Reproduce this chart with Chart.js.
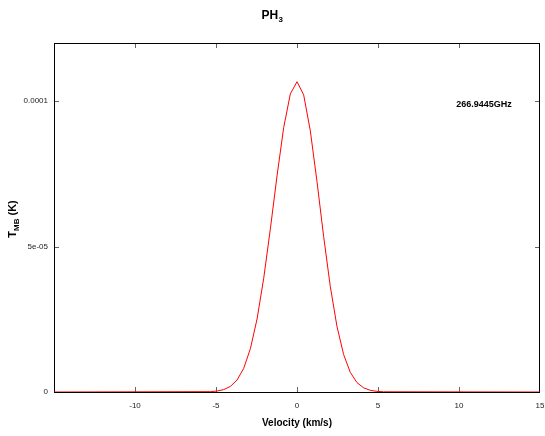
<!DOCTYPE html>
<html>
<head>
<meta charset="utf-8">
<script src="https://cdn.jsdelivr.net/npm/chart.js@4/dist/chart.umd.min.js"></script>
<style>
  html, body { margin: 0; padding: 0; background: #ffffff; }
  #wrap { width: 545px; height: 436px; }
</style>
</head>
<body>
<div id="wrap"><canvas id="c" width="545" height="436"></canvas></div>
<script>
// ---- Data ----
const velocity = [-15, -5.343, -4.932, -4.521, -4.110, -3.699, -3.288, -2.877, -2.466, -2.055, -1.644, -1.233, -0.822, -0.411,
  0, 0.411, 0.822, 1.233, 1.644, 2.055, 2.466, 2.877, 3.288, 3.699, 4.110, 4.521, 4.932, 5.343, 15];
const tmb = [0, 1.2e-7, 3.3e-7, 8.3e-7, 1.92e-6, 4.12e-6, 8.16e-6, 1.49e-5, 2.51e-5, 3.91e-5, 5.61e-5, 7.43e-5, 9.09e-5, 1.025e-4,
  1.067e-4, 1.022e-4, 8.98e-5, 7.24e-5, 5.35e-5, 3.63e-5, 2.26e-5, 1.29e-5, 6.77e-6, 3.25e-6, 1.43e-6, 5.8e-7, 2.2e-7, 7e-8, 0];
const xTicks = [-15, -10, -5, 0, 5, 10, 15];
const yTicks = [0, 5e-5, 1e-4];
const yTickLabels = ['0', '5e-05', '0.0001'];
const titleMain = 'PH';
const titleSub = '3';
const xTitle = 'Velocity (km/s)';
const yTitleMain = 'T';
const yTitleSub = 'MB';
const yTitleTail = ' (K)';
const annotation = '266.9445GHz';

const points = velocity.map((v, i) => ({ x: v, y: tmb[i] }));

const FONT = '"Liberation Sans", Arial, Helvetica, sans-serif';

const framePlugin = {
  id: 'frame',
  beforeDatasetsDraw(chart) {
    const ctx = chart.ctx;
    const a = chart.chartArea;
    const xs = chart.scales.x, ys = chart.scales.y;
    ctx.save();
    ctx.strokeStyle = '#666666';
    ctx.lineWidth = 1;
    const L = 5;
    xTicks.forEach(v => {
      if (v <= -15 || v >= 15) return;
      const px = Math.round(xs.getPixelForValue(v)) + 0.5;
      ctx.beginPath();
      ctx.moveTo(px, a.bottom); ctx.lineTo(px, a.bottom - L);
      ctx.moveTo(px, a.top); ctx.lineTo(px, a.top + L);
      ctx.stroke();
    });
    yTicks.forEach(v => {
      if (v <= 0) return;
      const py = Math.round(ys.getPixelForValue(v)) + 0.5;
      ctx.beginPath();
      ctx.moveTo(a.left, py); ctx.lineTo(a.left + L, py);
      ctx.moveTo(a.right, py); ctx.lineTo(a.right - L, py);
      ctx.stroke();
    });
    ctx.strokeStyle = '#000000';
    ctx.lineWidth = 1;
    ctx.strokeRect(Math.round(a.left) + 0.5, Math.round(a.top) + 0.5,
      Math.round(a.right - a.left) - 1, Math.round(a.bottom - a.top));
    ctx.restore();
  },
  afterDraw(chart) {
    const ctx = chart.ctx;
    ctx.save();
    ctx.fillStyle = '#000000';
    ctx.textBaseline = 'alphabetic';
    // Title PH3
    ctx.font = 'bold 12px ' + FONT;
    const w1 = ctx.measureText(titleMain).width;
    ctx.font = 'bold 8px ' + FONT;
    const w2 = ctx.measureText(titleSub).width;
    let tx = 272 - (w1 + w2) / 2;
    ctx.font = 'bold 12px ' + FONT;
    ctx.textAlign = 'left';
    ctx.fillText(titleMain, tx, 19);
    ctx.font = 'bold 8px ' + FONT;
    ctx.fillText(titleSub, tx + w1 + 0.5, 22);
    // X title
    ctx.font = 'bold 10px ' + FONT;
    ctx.textAlign = 'center';
    ctx.fillText(xTitle, 297, 426);
    // Y title rotated
    ctx.save();
    ctx.translate(16, 219);
    ctx.rotate(-Math.PI / 2);
    ctx.font = 'bold 11px ' + FONT;
    const a1 = ctx.measureText(yTitleMain).width;
    const a3 = ctx.measureText(yTitleTail).width;
    ctx.font = 'bold 8px ' + FONT;
    const a2 = ctx.measureText(yTitleSub).width;
    let sx = -(a1 + a2 + a3) / 2;
    ctx.textAlign = 'left';
    ctx.font = 'bold 11px ' + FONT;
    ctx.fillText(yTitleMain, sx, 0);
    ctx.font = 'bold 8px ' + FONT;
    ctx.fillText(yTitleSub, sx + a1, 3);
    ctx.font = 'bold 11px ' + FONT;
    ctx.fillText(yTitleTail, sx + a1 + a2, 0);
    ctx.restore();
    // annotation
    ctx.font = 'bold 9px ' + FONT;
    ctx.textAlign = 'center';
    ctx.fillText(annotation, 484, 107);
    ctx.restore();
  }
};

new Chart(document.getElementById('c'), {
  type: 'line',
  data: {
    datasets: [{
      data: points,
      borderColor: '#ff0000',
      borderWidth: 1,
      pointRadius: 0,
      tension: 0,
      fill: false
    }]
  },
  options: {
    responsive: false,
    animation: false,
    layout: { padding: { left: 0, right: 5, top: 43, bottom: 0 } },
    plugins: { legend: { display: false }, tooltip: { enabled: false }, title: { display: false } },
    scales: {
      x: {
        type: 'linear',
        min: -15, max: 15,
        afterFit(s) { s.height = 44; s.paddingLeft = 0; s.paddingRight = 0; },
        afterBuildTicks(s) { s.ticks = xTicks.map(v => ({ value: v })); },
        grid: { display: false, drawTicks: false },
        border: { display: false },
        ticks: {
          padding: 9,
          color: '#222222',
          font: { family: FONT, size: 8 },
          maxRotation: 0,
          autoSkip: false,
          callback: (v) => (v === -15 ? '' : String(v))
        }
      },
      y: {
        type: 'linear',
        min: 0, max: 0.00012,
        afterFit(s) { s.width = 54; s.paddingTop = 0; s.paddingBottom = 0; },
        afterBuildTicks(s) { s.ticks = yTicks.map(v => ({ value: v })); },
        grid: { display: false, drawTicks: false },
        border: { display: false },
        ticks: {
          padding: 6,
          color: '#222222',
          font: { family: FONT, size: 8 },
          autoSkip: false,
          callback: (v) => { const i = yTicks.indexOf(v); return i >= 0 ? yTickLabels[i] : ''; }
        }
      }
    }
  },
  plugins: [framePlugin]
});
</script>
</body>
</html>
